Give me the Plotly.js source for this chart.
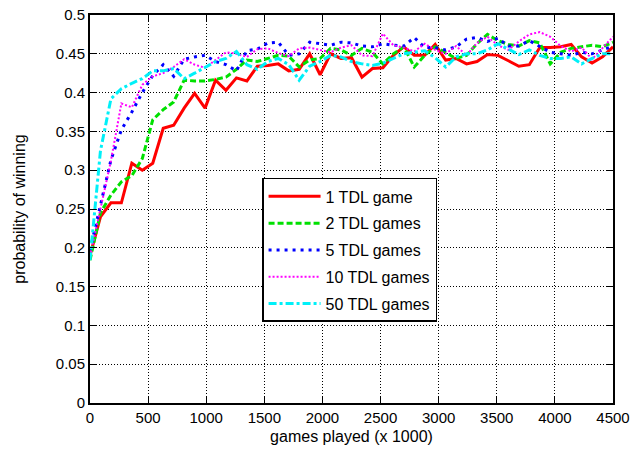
<!DOCTYPE html>
<html>
<head>
<meta charset="utf-8">
<script src="https://cdn.plot.ly/plotly-3.0.1.min.js"></script>
<style>html,body{margin:0;padding:0;background:#fff;}#chart{width:633px;height:453px;}</style>
</head>
<body>
<div id="chart"></div>
<script>
// games played (x 1000), sampled every 90
const gamesPlayed = [0,90,180,270,360,450,540,630,720,810,900,990,1080,1170,1260,1350,1440,1530,1620,1710,1800,1890,1980,2070,2160,2250,2340,2430,2520,2610,2700,2790,2880,2970,3060,3150,3240,3330,3420,3510,3600,3690,3780,3870,3960,4050,4140,4230,4320,4410,4500];

const seriesNames = ["1 TDL game","2 TDL games","5 TDL games","10 TDL games","50 TDL games"];

const tdl1 = [0.190,0.240,0.258,0.258,0.309,0.300,0.309,0.354,0.358,0.380,0.399,0.380,0.416,0.403,0.419,0.415,0.434,0.435,0.437,0.428,0.430,0.450,0.423,0.450,0.444,0.445,0.420,0.431,0.432,0.448,0.459,0.448,0.448,0.462,0.442,0.444,0.437,0.440,0.449,0.448,0.441,0.434,0.436,0.458,0.458,0.459,0.462,0.446,0.438,0.446,0.459];

const tdl2 = [0.184,0.245,0.268,0.285,0.293,0.315,0.365,0.378,0.388,0.416,0.415,0.415,0.417,0.420,0.430,0.442,0.440,0.444,0.448,0.447,0.433,0.442,0.444,0.457,0.455,0.448,0.457,0.452,0.437,0.450,0.459,0.433,0.448,0.459,0.452,0.444,0.448,0.463,0.475,0.467,0.462,0.460,0.467,0.464,0.437,0.452,0.457,0.459,0.461,0.459,0.465];

const tdl5 = [0.197,0.255,0.313,0.352,0.375,0.400,0.422,0.436,0.421,0.443,0.446,0.448,0.440,0.436,0.428,0.454,0.456,0.464,0.465,0.448,0.450,0.465,0.463,0.461,0.465,0.464,0.460,0.459,0.463,0.461,0.460,0.471,0.458,0.458,0.455,0.459,0.469,0.471,0.466,0.470,0.460,0.460,0.467,0.459,0.452,0.450,0.448,0.452,0.450,0.455,0.460];

const tdl10 = [0.189,0.250,0.312,0.386,0.381,0.410,0.421,0.425,0.433,0.443,0.436,0.432,0.442,0.452,0.450,0.446,0.456,0.457,0.451,0.447,0.457,0.458,0.455,0.452,0.458,0.461,0.448,0.447,0.476,0.461,0.458,0.453,0.463,0.455,0.450,0.460,0.448,0.464,0.472,0.461,0.455,0.466,0.475,0.478,0.472,0.460,0.453,0.458,0.443,0.458,0.472];

const tdl50 = [0.184,0.325,0.392,0.405,0.412,0.418,0.428,0.428,0.431,0.418,0.425,0.433,0.440,0.444,0.453,0.436,0.430,0.440,0.444,0.436,0.416,0.434,0.440,0.448,0.446,0.440,0.437,0.435,0.438,0.444,0.450,0.452,0.454,0.445,0.433,0.446,0.450,0.450,0.455,0.463,0.456,0.449,0.455,0.448,0.444,0.444,0.446,0.437,0.444,0.450,0.450];

const xTickVals = [0,500,1000,1500,2000,2500,3000,3500,4000,4500];
const yTickVals = [0,0.05,0.1,0.15,0.2,0.25,0.3,0.35,0.4,0.45,0.5];

const allSeries = [tdl1, tdl2, tdl5, tdl10, tdl50];
const styles = [
  {color:"#ff0000", width:3, dash:"solid"},
  {color:"#00e000", width:3, dash:"6px,3px"},
  {color:"#0000ff", width:3, dash:"3px,5px"},
  {color:"#ff00ff", width:2, dash:"2px,2px"},
  {color:"#00f0f8", width:3, dash:"8px,3px,3px,3px"}
];

const traces = allSeries.map((ys, i) => ({
  type: "scatter",
  mode: "lines",
  x: gamesPlayed,
  y: ys,
  name: seriesNames[i],
  legendgroup: "g" + i,
  line: styles[i]
}));

const FAM = "Liberation Sans, Arial, sans-serif";
const tickFont = {family: FAM, size: 15, color: "#000"};
const titleFont = {family: FAM, size: 16, color: "#000"};

const axisCommon = {
  showline: true, linecolor: "#000", linewidth: 2, mirror: "ticks",
  ticks: "inside", ticklen: 6, tickcolor: "#000", tickwidth: 1,
  showgrid: true, gridcolor: "#000", gridwidth: 1, griddash: "1px,2px",
  zeroline: false, tickfont: tickFont
};

const layout = {
  width: 633, height: 453,
  margin: {l: 90, r: 20, t: 15, b: 50},
  paper_bgcolor: "#fff", plot_bgcolor: "#fff",
  font: tickFont,
  xaxis: Object.assign({}, axisCommon, {
    range: [0, 4500], tickvals: xTickVals, ticktext: xTickVals.map(String),
    title: {text: "games played (x 1000)", font: titleFont, standoff: 6}
  }),
  yaxis: Object.assign({}, axisCommon, {
    range: [0, 0.5], tickvals: yTickVals, ticktext: yTickVals.map(v => String(v)),
    title: {text: "probability of winning", font: titleFont, standoff: 26}
  }),
  showlegend: true,
  legend: {
    x: 0.329, y: 0.58, xanchor: "left", yanchor: "top",
    bgcolor: "#fff", bordercolor: "#000", borderwidth: 1.5,
    font: {family: FAM, size: 16, color: "#000"},
    traceorder: "grouped", tracegroupgap: 3, itemwidth: 52
  }
};

Plotly.newPlot("chart", traces, layout, {displayModeBar: false, staticPlot: true});
</script>
</body>
</html>
